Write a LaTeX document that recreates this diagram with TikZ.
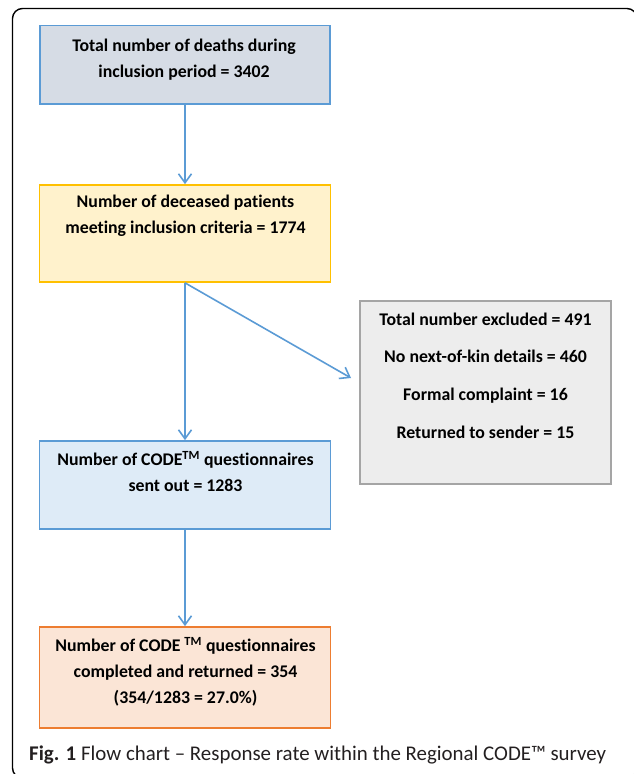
\documentclass[tikz,border=0pt]{standalone}
\usepackage{fontspec}
\setmainfont{Carlito}[Ligatures={NoCommon}]
\usetikzlibrary{arrows.meta}
\definecolor{lineblue}{HTML}{5B9BD5}
\definecolor{fillone}{HTML}{D6DCE5}
\definecolor{filltwo}{HTML}{FFF2CC}
\definecolor{bordertwo}{HTML}{FFC000}
\definecolor{fillgray}{HTML}{EDEDED}
\definecolor{bordergray}{HTML}{A5A5A5}
\definecolor{fillfour}{HTML}{DEEBF7}
\definecolor{fillfive}{HTML}{FBE5D6}
\definecolor{borderfive}{HTML}{ED7D31}
\definecolor{captext}{HTML}{231F20}
\tikzset{
  boxnode/.style={rectangle, line width=1.7pt, inner sep=0pt},
  boxtext/.style={align=center, font=\bfseries\fontsize{17.8}{26}\selectfont, inner sep=0pt, text=black},
  arr/.style={draw=lineblue, line width=1.6pt, -{Straight Barb[length=9pt,width=13pt,line width=1.6pt]}}
}
\begin{document}
\begin{tikzpicture}[x=1pt,y=-1pt]
\useasboundingbox (0,0) rectangle (634,774);
\begin{scope}
\clip (0,0) rectangle (634,774);
\draw[line width=1.4pt, rounded corners=10pt, black] (12.5,8.5) rectangle (637,778);
\end{scope}

\node[boxnode, fill=fillone, draw=lineblue, minimum width=290pt, minimum height=78.5pt] (b1) at (185,64.75) {};
\node[boxnode, fill=filltwo, draw=bordertwo, minimum width=291pt, minimum height=97pt] (b2) at (185,233.5) {};
\node[boxnode, fill=fillgray, draw=bordergray, minimum width=251pt, minimum height=183pt] (bx) at (485.5,392.5) {};
\node[boxnode, fill=fillfour, draw=lineblue, minimum width=291pt, minimum height=88pt] (b4) at (185,485) {};
\node[boxnode, fill=fillfive, draw=borderfive, minimum width=291pt, minimum height=101pt] (b5) at (185,677.5) {};

\node[boxtext] (t1) at (184,60) {Total number of deaths during\\inclusion period = 3402};
\node[boxtext] (t2) at (185.5,216) {Number of deceased patients\\meeting inclusion criteria = 1774};
\node[boxtext, font=\bfseries\fontsize{17.8}{37.7}\selectfont] (tx) at (485.5,375.5) {Total number excluded = 491\\No next-of-kin details = 460\\Formal complaint = 16\\Returned to sender = 15};
\node[boxtext] (t4) at (185.5,471.5) {Number of CODE\textsuperscript{TM} questionnaires\\sent out = 1283};
\node[boxtext] (t5) at (185.5,671.5) {Number of CODE \textsuperscript{TM} questionnaires\\completed and returned = 354\\(354/1283 = 27.0\%)};

\coordinate (ex) at (351,378);
\draw[arr] (b1.south) -- (b2.north);
\draw[arr] (b2.south) -- (b4.north);
\draw[arr] (b2.south) -- (ex);
\draw[arr] (b4.south) -- (b5.north);

\node[anchor=base west, inner sep=0pt, text=captext, font=\fontsize{20.9}{24}\selectfont] (cap) at (29,760) {\textbf{Fig. 1} Flow chart – Response rate within the Regional CODE™ survey};
\end{tikzpicture}
\end{document}
